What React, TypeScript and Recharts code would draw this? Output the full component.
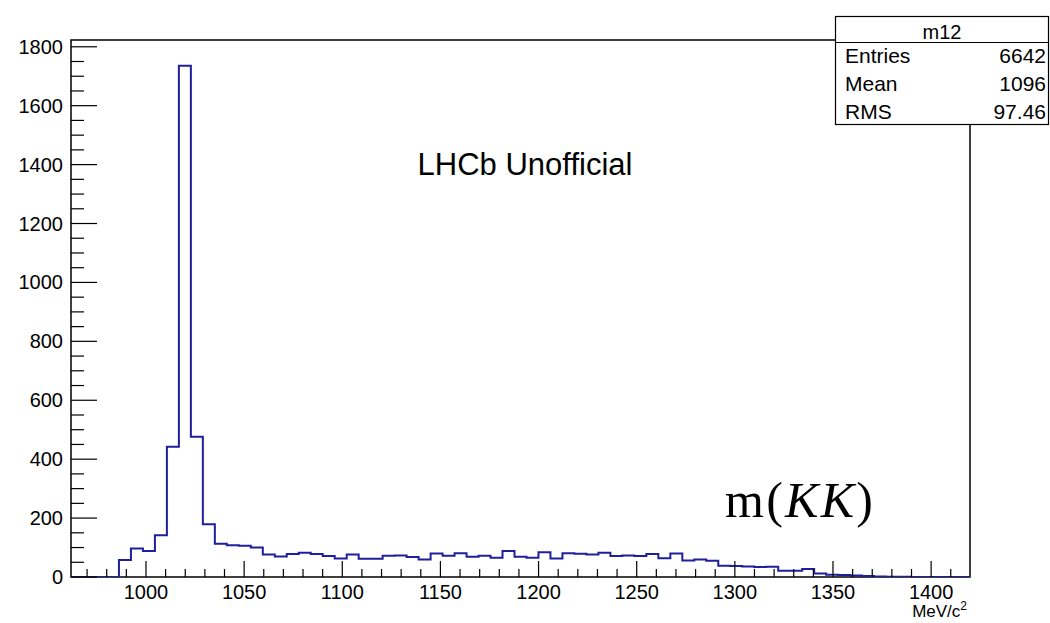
import React from 'react';
import { LineChart, Line, XAxis, YAxis, ReferenceArea } from 'recharts';

// Histogram range and bin contents (m12, 75 bins)
const X_MIN = 961.8;
const X_MAX = 1419.8;
const Y_MAX = 1823;

const binCounts = [
  0, 0, 0, 0, 58, 97, 88, 142, 442, 1736,
  476, 179, 113, 108, 106, 100, 76, 70, 78, 82,
  78, 71, 63, 76, 62, 62, 72, 73, 68, 59,
  80, 72, 81, 69, 72, 65, 88, 69, 65, 84,
  63, 81, 79, 76, 82, 71, 73, 71, 78, 64,
  80, 56, 59, 55, 38, 37, 36, 34, 35, 21,
  21, 27, 12, 8, 7, 5, 3, 2, 1, 1,
  0, 0, 0, 0, 0,
];

const xMajorTicks = [1000, 1050, 1100, 1150, 1200, 1250, 1300, 1350, 1400];
const yMajorTicks = [0, 200, 400, 600, 800, 1000, 1200, 1400, 1600, 1800];
const X_MINOR_STEP = 10;
const Y_MINOR_STEP = 50;

const statTitle = 'm12';
const statLabels = ['Entries', 'Mean', 'RMS'];
const statValues = ['6642', '1096', '97.46'];

const xTicks: number[] = [];
for (let v = 970; v <= 1410; v += X_MINOR_STEP) xTicks.push(v);
const yTicks: number[] = [];
for (let v = 0; v <= 1800; v += Y_MINOR_STEP) yTicks.push(v);

const binWidth = (X_MAX - X_MIN) / binCounts.length;
const histData = binCounts.map((c, i) => ({ x: X_MIN + i * binWidth, y: c }));
histData.push({ x: X_MAX, y: binCounts[binCounts.length - 1] });

const FONT = '"Liberation Sans", Arial, Helvetica, sans-serif';

const XTick = (props: any) => {
  const { x, y, payload } = props;
  const major = xMajorTicks.includes(payload.value);
  const axisY = y - 8;
  return (
    <g>
      <line x1={x} x2={x} y1={axisY} y2={axisY - (major ? 16 : 8)} stroke="#000" strokeWidth={1.2} />
      {major && (
        <text x={x} y={y + 14} textAnchor="middle" fontSize={20} fontFamily={FONT} fill="#000">
          {payload.value}
        </text>
      )}
    </g>
  );
};

const YTick = (props: any) => {
  const { x, y, payload } = props;
  const major = yMajorTicks.includes(payload.value);
  const axisX = x + 8;
  return (
    <g>
      <line x1={axisX} x2={axisX + (major ? 26 : 13)} y1={y} y2={y} stroke="#000" strokeWidth={1.2} />
      {major && (
        <text x={x} y={y + 7} textAnchor="end" fontSize={20} fontFamily={FONT} fill="#000">
          {payload.value}
        </text>
      )}
    </g>
  );
};

export default function App() {
  return (
    <div style={{ position: 'absolute', left: 0, top: 0, width: 1050, height: 623, background: '#fff' }}>
      <LineChart width={1050} height={623} data={histData} margin={{ top: 40, right: 80, left: 0, bottom: 0 }}>
        <XAxis
          dataKey="x"
          type="number"
          domain={[X_MIN, X_MAX]}
          ticks={xTicks}
          interval={0}
          tickSize={0}
          tickMargin={8}
          height={46}
          tick={(p: any) => <XTick {...p} />}
          axisLine={false}
          allowDataOverflow
        />
        <YAxis
          type="number"
          domain={[0, Y_MAX]}
          ticks={yTicks}
          interval={0}
          tickSize={0}
          tickMargin={8}
          width={71}
          tick={(p: any) => <YTick {...p} />}
          axisLine={false}
          allowDataOverflow
        />
        <Line
          type="stepAfter"
          dataKey="y"
          stroke="#1f1f9c"
          strokeWidth={2}
          dot={false}
          isAnimationActive={false}
        />
        <ReferenceArea x1={X_MIN} x2={X_MAX} y1={0} y2={Y_MAX} fill="none" fillOpacity={0} stroke="#000" strokeWidth={1.5} />
      </LineChart>
      <svg
        width={1050}
        height={623}
        style={{ position: 'absolute', left: 0, top: 0, pointerEvents: 'none' }}
      >
        <text x={525} y={175} textAnchor="middle" fontSize={31} fontFamily={FONT} fill="#000">
          LHCb Unofficial
        </text>
        <text x={725} y={517} fontSize={50} fontFamily='"Liberation Serif", "Times New Roman", serif' fill="#000" textLength={148} lengthAdjust="spacing">
          m(<tspan fontStyle="italic">KK</tspan>)
        </text>
        <text x={967} y={617} textAnchor="end" fontSize={17} fontFamily={FONT} fill="#000">
          MeV/c<tspan fontSize={12} dy={-7}>2</tspan>
        </text>
        <rect x={835.5} y={16.5} width={213} height={108} fill="#fff" stroke="#000" strokeWidth={1.2} />
        <line x1={835.5} x2={1048.5} y1={42.5} y2={42.5} stroke="#000" strokeWidth={1.2} />
        <text x={942} y={39} textAnchor="middle" fontSize={20} fontFamily={FONT} fill="#000">
          {statTitle}
        </text>
        {statLabels.map((lab, i) => (
          <g key={lab}>
            <text x={845} y={63 + i * 28} fontSize={21} fontFamily={FONT} fill="#000">{lab}</text>
            <text x={1046} y={63 + i * 28} textAnchor="end" fontSize={21} fontFamily={FONT} fill="#000">{statValues[i]}</text>
          </g>
        ))}
      </svg>
    </div>
  );
}
